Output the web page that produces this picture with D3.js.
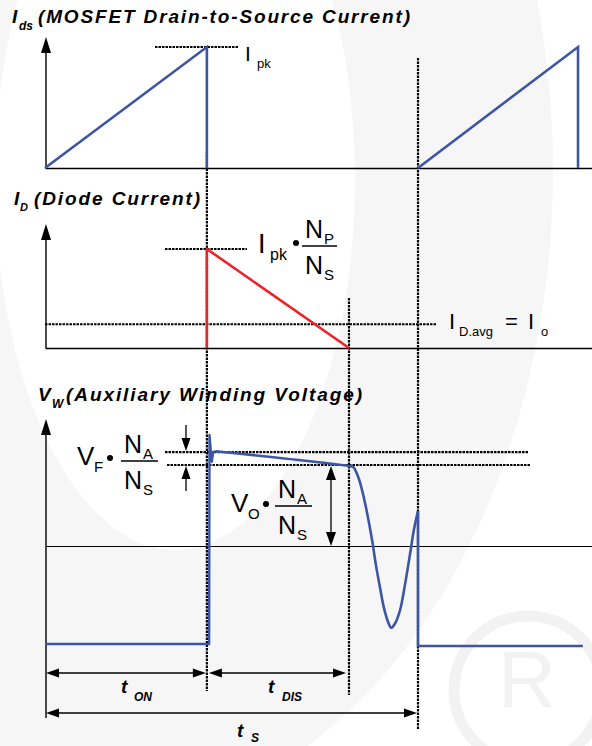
<!DOCTYPE html>
<html>
<head>
<meta charset="utf-8">
<script src="https://cdn.jsdelivr.net/npm/d3@7"></script>
<style>
body { margin: 0; background: #fff; }
svg { display: block; }
text { font-family: "Liberation Sans", Arial, sans-serif; fill: #000; }
.ttl { font-weight: bold; font-style: italic; }
</style>
</head>
<body>
<svg id="chart" width="592" height="746"></svg>
<script>
// time axis in us, switching period tS = 10
var tOn = 4.34, tDis = 8.15, tS = 10, tEnd = 14.66;

// I_ds (MOSFET), normalised to Ipk
var idsRamp1 = [[0, 0], [4.34, 1], [4.34, 0]];
var idsRamp2 = [[10, 0], [14.29, 1], [14.29, 0]];

// I_D (diode), normalised to Ipk*Np/Ns
var idDiode = [[4.34, 0], [4.34, 1], [8.15, 0]];
var idAvg = 0.24;

// V_W (aux winding), normalised to Vo*Na/Ns
var vwOn = [[0, -1.21], [4.40, -1.21], [4.41, 1.37], [4.44, 1.2], [4.47, 1.04], [4.51, 1.16], [4.58, 1.17]];
var vwDis = [[4.58, 1.17], [8.12, 0.99], [8.26, 0.975], [8.39, 0.86], [8.5, 0.69], [8.63, 0.42], [8.77, 0.07],
             [8.87, -0.23], [8.98, -0.51], [9.09, -0.77], [9.2, -0.94], [9.28, -1.01], [9.38, -0.96],
             [9.52, -0.79], [9.65, -0.48], [9.79, -0.09], [9.89, 0.2], [10, 0.43]];
var vwOff = [[10, 0.43], [10, -1.235], [14.42, -1.235]];
var vfLevel = 1.16, voLevel = 1.0;

var blue = "#3d55a5", red = "#ec2327";

var svg = d3.select("#chart");
var x = d3.scaleLinear().domain([0, tS]).range([45, 418]);
var xFull = d3.scaleLinear().domain([0, tEnd]).range([45, x(tEnd)]);
var y1 = d3.scaleLinear().domain([0, 1]).range([168, 47]);
var y2 = d3.scaleLinear().domain([0, 1]).range([348, 249]);
var y3 = d3.scaleLinear().domain([0, 1]).range([546, 465]);

// faint watermark in the background
var wm = svg.append("g");
function ell(cx, cy, rx, ry) {
  return "M" + (cx - rx) + "," + cy + "a" + rx + "," + ry + " 0 1,0 " + (2 * rx) + ",0a" + rx + "," + ry + " 0 1,0 " + (-2 * rx) + ",0Z";
}
wm.append("path")
    .attr("d", ell(100, 170, 453, 648) + ell(175, 180, 180, 370))
    .attr("fill-rule", "evenodd")
    .attr("fill", "#f6f6f6");
wm.append("circle").attr("cx", 528).attr("cy", 690).attr("r", 74)
    .attr("fill", "#fff").attr("stroke", "#f2f2f2").attr("stroke-width", 11);
wm.append("text").attr("x", 527).attr("y", 707).attr("text-anchor", "middle")
    .style("font-size", "80px").style("fill", "#f2f2f2").text("R");

// baselines through d3 axes
function baseline(yPos, sw) {
  var g = svg.append("g")
      .attr("transform", "translate(0," + yPos + ")")
      .call(d3.axisBottom(xFull).tickValues([]).tickSizeOuter(0));
  g.select(".domain").attr("stroke", "#000").attr("stroke-width", sw);
}
baseline(y1(0), 1.4);
baseline(y2(0), 1.4);
baseline(y3(0), 1.1);

function line(x1, yA, x2, yB, sw, dash) {
  return svg.append("line").attr("x1", x1).attr("y1", yA).attr("x2", x2).attr("y2", yB)
      .attr("stroke", "#000").attr("stroke-width", sw).attr("stroke-dasharray", dash || null);
}
// arrow head: tip at (tx,ty) pointing dir
function head(tx, ty, dir, len, hw) {
  len = len || 14; hw = hw || 5;
  var p;
  if (dir === "up") p = [[tx, ty], [tx - hw, ty + len], [tx + hw, ty + len]];
  if (dir === "down") p = [[tx, ty], [tx - hw, ty - len], [tx + hw, ty - len]];
  if (dir === "left") p = [[tx, ty], [tx + len, ty - hw], [tx + len, ty + hw]];
  if (dir === "right") p = [[tx, ty], [tx - len, ty - hw], [tx - len, ty + hw]];
  svg.append("path").attr("d", "M" + p.join("L") + "Z").attr("fill", "#000");
}

// y axes with arrows
var ax = 46;
line(ax, y1(0), ax, 40, 1.4); head(ax, 37, "up", 16, 5);
line(ax, y2(0), ax, 227, 1.4); head(ax, 224, "up", 16, 5);
line(ax, 718, ax, 422, 1.4); head(ax, 419, "up", 16, 5);

// dashed guides
var dash = "2.5,1";
line(x(tOn), 151, x(tOn), 691, 2.2, dash);
line(x(tDis), 298, x(tDis), 695, 2.2, dash);
line(x(tS), 58, x(tS), 729, 2.2, dash);
line(155, y1(1), 238, y1(1), 2.2, dash);
line(165, y2(1), 247, y2(1), 2.2, dash);
line(45, y2(idAvg), 437, y2(idAvg), 2.2, dash);
line(165, y3(vfLevel), 528, y3(vfLevel), 2.2, dash);
line(167, y3(voLevel), 530, y3(voLevel), 2.2, dash);

// waveforms
var path1 = d3.line().x(d => x(d[0])).y(d => y1(d[1]));
var path2 = d3.line().x(d => x(d[0])).y(d => y2(d[1]));
var path3 = d3.line().x(d => x(d[0])).y(d => y3(d[1]));
var path3c = d3.line().x(d => x(d[0])).y(d => y3(d[1])).curve(d3.curveCatmullRom.alpha(0.5));

[idsRamp1, idsRamp2].forEach(function (r) {
  svg.append("path").attr("d", path1(r)).attr("fill", "none")
      .attr("stroke", blue).attr("stroke-width", 2.6);
});
svg.append("path").attr("d", path2(idDiode)).attr("fill", "none")
    .attr("stroke", red).attr("stroke-width", 2.6);
svg.append("path").attr("d", path3(vwOn)).attr("fill", "none")
    .attr("stroke", blue).attr("stroke-width", 2.4).attr("stroke-linejoin", "round");
svg.append("path").attr("d", path3c(vwDis)).attr("fill", "none")
    .attr("stroke", blue).attr("stroke-width", 2.6);
svg.append("path").attr("d", path3(vwOff)).attr("fill", "none")
    .attr("stroke", blue).attr("stroke-width", 2.6);

// small level arrows
line(186, 425, 186, 440, 1.3); head(186, 451, "down", 13, 4.5);
line(186, 478, 186, 491, 1.3); head(186, 466, "up", 13, 4.5);
line(331, 478, 331, 534, 1.3); head(331, 466, "up", 14, 5); head(331, 546, "down", 14, 5);

// time arrows
var yOn = 673, ySw = 713;
line(x(0) + 10, yOn, x(tOn) - 10, yOn, 1.3); head(x(0) + 1, yOn, "left", 13, 4.5); head(x(tOn) - 1, yOn, "right", 13, 4.5);
line(x(tOn) + 10, yOn, x(tDis) - 10, yOn, 1.3); head(x(tOn) + 2, yOn, "left", 13, 4.5); head(x(tDis) - 3, yOn, "right", 13, 4.5);
line(x(0) + 10, ySw, x(tS) - 10, ySw, 1.3); head(x(0) + 1, ySw, "left", 13, 4.5); head(x(tS) - 1, ySw, "right", 13, 4.5);

// text helpers
function txt(s, tx, ty, size, cls, tl) {
  var t = svg.append("text").attr("x", tx).attr("y", ty).style("font-size", size + "px").text(s);
  if (cls) t.attr("class", cls);
  if (tl) t.attr("textLength", tl).attr("lengthAdjust", "spacing");
  return t;
}

// titles
txt("I", 12, 23, 19, "ttl"); txt("ds", 19, 30, 12, "ttl");
txt("(MOSFET Drain-to-Source Current)", 38, 23, 19, "ttl", 372);
txt("I", 14, 205, 19, "ttl"); txt("D", 20, 211, 11, "ttl");
txt("(Diode Current)", 34, 205, 19, "ttl", 166);
txt("V", 38, 401, 19, "ttl"); txt("W", 52, 408, 12, "ttl");
txt("(Auxiliary Winding Voltage)", 66, 401, 19, "ttl", 296);

// Ipk
txt("I", 245, 61, 21); txt("pk", 257, 68, 13);

// fraction N_top / N_bot with bar from bx1 to bx2 at by
function frac(bx1, bx2, by, top, bot) {
  line(bx1, by, bx2, by, 1.6);
  txt("N", bx1 + 3, by - 8, 25); txt(top, bx1 + 22, by - 2, 15);
  txt("N", bx1 + 3, by + 28, 25); txt(bot, bx1 + 22, by + 34, 15);
}
txt("I", 258, 253, 27); txt("pk", 270, 260, 16);
svg.append("circle").attr("cx", 296).attr("cy", 243).attr("r", 3);
frac(302, 337, 246, "P", "S");

// I_D.avg = I_o
txt("I", 449, 329, 22); txt("D.avg", 459, 336, 13);
txt("=", 505, 329, 22); txt("I", 528, 329, 22); txt("o", 541, 336, 13);

// Vf * Na/Ns
txt("V", 77, 465, 26); txt("F", 94, 472, 15);
svg.append("circle").attr("cx", 110).attr("cy", 458).attr("r", 3);
frac(121, 158, 461, "A", "S");

// Vo * Na/Ns
txt("V", 231, 512, 26); txt("O", 248, 519, 15);
svg.append("circle").attr("cx", 266).attr("cy", 504).attr("r", 3);
frac(275, 312, 506, "A", "S");

// time labels
txt("t", 121, 693, 19, "ttl"); txt("ON", 134, 701, 12, "ttl");
txt("t", 268, 693, 19, "ttl"); txt("DIS", 282, 701, 12, "ttl");
txt("t", 237, 737, 19, "ttl"); txt("S", 251, 742, 12, "ttl");
</script>
</body>
</html>
